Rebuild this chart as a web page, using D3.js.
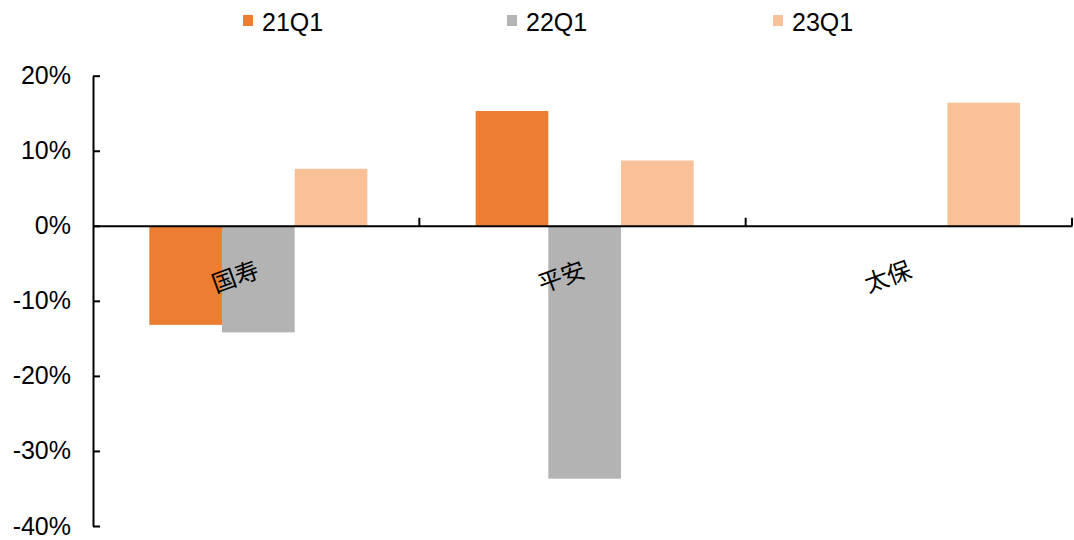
<!DOCTYPE html>
<html>
<head>
<meta charset="utf-8">
<script src="https://cdn.jsdelivr.net/npm/d3@7"></script>
<style>
  html, body { margin: 0; padding: 0; background: #fff; }
  svg { display: block; }
</style>
</head>
<body>
<svg id="chart" width="1074" height="540"></svg>
<script>
const categories = ["国寿", "平安", "太保"];
const seriesNames = ["21Q1", "22Q1", "23Q1"];
const s21Q1 = [-13.2, 15.3, 0];
const s22Q1 = [-14.2, -33.7, 0];
const s23Q1 = [7.6, 8.7, 16.4];
const seriesValues = [s21Q1, s22Q1, s23Q1];
const colors = ["#ED7D31", "#B3B3B3", "#F8C198"];
const yTicks = [20, 10, 0, -10, -20, -30, -40];

(function () {
const svg = d3.select("#chart");
const mLeft = 93, mRight = 1072, mTop = 75.7, mBottom = 526;

const x0 = d3.scaleBand().domain(categories).range([mLeft, mRight]).padding(0);
const x1 = d3.scaleBand().domain(seriesNames).range([0, x0.bandwidth()])
  .paddingInner(0).paddingOuter(0.745).align(0.52);
const y = d3.scaleLinear().domain([-40, 20]).range([mBottom, mTop]);

const numFont = "'Liberation Sans', Arial, sans-serif";
const cjkFont = "'Noto Sans CJK SC', sans-serif";

// bars
const groups = svg.append("g").selectAll("g")
  .data(categories).join("g")
  .attr("transform", d => `translate(${x0(d)},0)`);
groups.selectAll("rect")
  .data((d, i) => seriesNames.map((s, j) => ({ s, j, v: seriesValues[j][i] })))
  .join("rect")
  .attr("x", d => x1(d.s))
  .attr("width", x1.bandwidth())
  .attr("y", d => y(Math.max(0, d.v)))
  .attr("height", d => Math.abs(y(d.v) - y(0)))
  .attr("fill", d => colors[d.j]);

// y axis
const yAxis = d3.axisLeft(y).tickValues(yTicks)
  .tickFormat(d => d + "%")
  .tickSizeInner(-7).tickSizeOuter(0).tickPadding(22);
const gy = svg.append("g").attr("transform", `translate(${mLeft},0)`).call(yAxis);
gy.select(".domain").attr("stroke", "#000").attr("stroke-width", 2);
gy.selectAll(".tick line").attr("stroke", "#000").attr("stroke-width", 2);
gy.selectAll(".tick text").attr("font-family", numFont).attr("font-size", 25).attr("fill", "#000");

// x axis (zero line)
const xAxis = d3.axisBottom(x0).tickValues([]).tickSizeOuter(0);
const gx = svg.append("g").attr("transform", `translate(0,${y(0)})`).call(xAxis);
gx.select(".domain").attr("stroke", "#000").attr("stroke-width", 2);
gx.selectAll("line.bound")
  .data(categories).join("line")
  .attr("class", "bound")
  .attr("x1", d => x0(d) + x0.bandwidth())
  .attr("x2", d => x0(d) + x0.bandwidth())
  .attr("y1", 0).attr("y2", -8)
  .attr("stroke", "#000").attr("stroke-width", 2);

// category labels, rotated
svg.append("g").selectAll("text")
  .data(categories).join("text")
  .attr("transform", d => `translate(${x0(d) + x0.bandwidth() / 2 + 1},${y(0) + 41}) rotate(-20)`)
  .attr("text-anchor", "end")
  .attr("dominant-baseline", "central")
  .attr("font-family", cjkFont)
  .attr("font-size", 24)
  .attr("fill", "#000")
  .text(d => d);

// legend
const legendX = [243, 507, 773];
const leg = svg.append("g").selectAll("g")
  .data(seriesNames).join("g")
  .attr("transform", (d, i) => `translate(${legendX[i]},0)`);
leg.append("rect").attr("x", 0).attr("y", 15).attr("width", 10).attr("height", 11)
  .attr("fill", (d, i) => colors[i]);
leg.append("text").attr("x", 19).attr("y", 22)
  .attr("dominant-baseline", "central")
  .attr("font-family", numFont).attr("font-size", 25).attr("fill", "#000")
  .text(d => d);
})();
</script>
</body>
</html>
